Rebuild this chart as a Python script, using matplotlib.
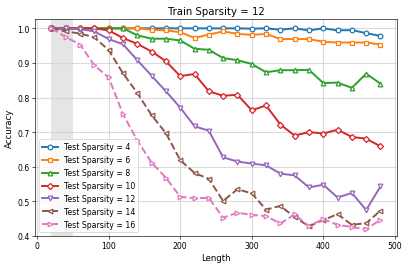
import matplotlib
matplotlib.use("Agg")
import matplotlib.pyplot as plt

# Sequence lengths
lengths = list(range(20, 481, 20))

# Accuracy per test sparsity
acc_4 = [1.0, 1.0, 1.0, 1.0, 1.0, 1.0, 1.0, 1.0, 1.0, 1.0, 1.0, 1.0,
         1.0, 1.0, 0.999, 1.0, 0.996, 1.0, 0.994, 1.0, 0.994, 0.995, 0.986, 0.978]
acc_6 = [1.0, 1.0, 1.0, 1.0, 1.0, 1.0, 1.0, 0.996, 0.994, 0.989, 0.972, 0.982,
         0.991, 0.984, 0.981, 0.984, 0.969, 0.969, 0.969, 0.961, 0.959, 0.959, 0.959, 0.953]
acc_8 = [1.0, 1.0, 1.0, 1.0, 1.0, 1.0, 0.980, 0.970, 0.970, 0.965, 0.941, 0.938,
         0.914, 0.908, 0.897, 0.873, 0.879, 0.879, 0.880, 0.842, 0.843, 0.828, 0.869, 0.840]
acc_10 = [1.0, 1.0, 1.0, 1.0, 0.994, 0.972, 0.955, 0.933, 0.905, 0.862, 0.868, 0.818,
          0.805, 0.808, 0.763, 0.777, 0.722, 0.690, 0.700, 0.696, 0.707, 0.686, 0.681, 0.659]
acc_12 = [1.0, 1.0, 0.998, 0.991, 0.969, 0.954, 0.908, 0.863, 0.818, 0.771, 0.717, 0.704,
          0.627, 0.615, 0.609, 0.604, 0.580, 0.575, 0.540, 0.548, 0.511, 0.524, 0.475, 0.543]
acc_14 = [1.0, 0.991, 0.985, 0.974, 0.937, 0.870, 0.813, 0.749, 0.697, 0.619, 0.582, 0.565,
          0.501, 0.535, 0.523, 0.476, 0.487, 0.454, 0.428, 0.446, 0.463, 0.432, 0.437, 0.473]
acc_16 = [1.0, 0.975, 0.953, 0.893, 0.858, 0.752, 0.676, 0.612, 0.568, 0.513, 0.509, 0.510,
          0.453, 0.467, 0.461, 0.457, 0.436, 0.462, 0.428, 0.449, 0.432, 0.426, 0.419, 0.447]

sparsities = [4, 6, 8, 10, 12, 14, 16]
series = [acc_4, acc_6, acc_8, acc_10, acc_12, acc_14, acc_16]
markers = ["o", "s", "^", "D", "v", "<", ">"]
styles = ["-", "-", "-", "-", "-", "--", "--"]
colors = ["#1f77b4", "#ff7f0e", "#2ca02c", "#d62728", "#9467bd", "#8c564b", "#e377c2"]

fig, ax = plt.subplots(figsize=(7.27, 4.73), dpi=56)

# training length region
ax.axvspan(20, 50, color="gray", alpha=0.2, lw=0)

for s, acc, m, ls, c in zip(sparsities, series, markers, styles, colors):
    ax.plot(lengths, acc, marker=m, linestyle=ls, color=c, lw=2.5,
            markersize=6 if m != "D" else 5.5, markerfacecolor="white",
            markeredgewidth=1.6, label=f"Test Sparsity = {s}")

ax.set_ylim(0.4, 1.027)
ax.set_xlim(-3, 503)
ax.set_xlabel("Length", fontsize=11)
ax.set_ylabel("Accuracy", fontsize=11)
ax.set_title("Train Sparsity = 12", fontsize=13)
ax.grid(True, color="lightgray", alpha=0.8, lw=1.5)
ax.legend(loc="lower left", fontsize=10)
plt.subplots_adjust(left=0.086, right=0.975, top=0.925, bottom=0.106)
plt.savefig("out.png", dpi=56)
